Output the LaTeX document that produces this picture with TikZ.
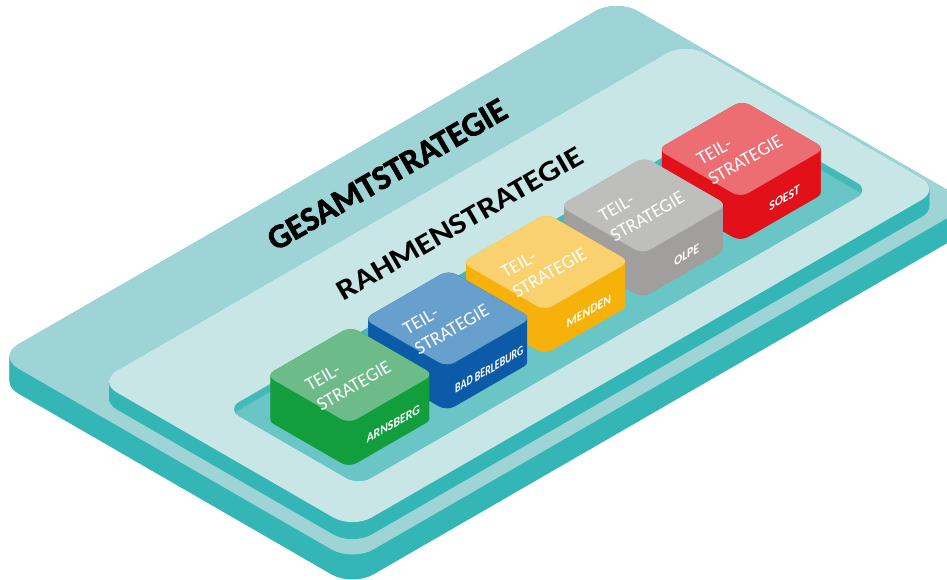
\documentclass[tikz,border=0pt]{standalone}
\usepackage{fontspec}
\setmainfont{Carlito}
\newfontfamily\heavyfont{Carlito}[BoldFeatures={FakeBold=2}]
\definecolor{outerTop}{HTML}{9ED4D5}
\definecolor{plateSide}{HTML}{34B5B6}
\definecolor{rahmenTop}{HTML}{C8E6E6}
\definecolor{trayFloor}{HTML}{6AC5C7}
\definecolor{trayWall}{HTML}{45B9BA}
\definecolor{greenTop}{HTML}{6DBB88}
\definecolor{greenSide}{HTML}{129E3C}
\definecolor{blueTop}{HTML}{679FCD}
\definecolor{blueSide}{HTML}{0B5BA8}
\definecolor{yellowTop}{HTML}{FAD16F}
\definecolor{yellowSide}{HTML}{F6B10A}
\definecolor{grayTop}{HTML}{BEBEBC}
\definecolor{graySide}{HTML}{A09F9E}
\definecolor{redTop}{HTML}{EC6E72}
\definecolor{redSide}{HTML}{E21119}
\tikzset{
  hplane/.style={x={(1pt,0pt)},y={(0pt,1pt)},
    transform canvas={cm={0.866,0.5,0.866,-0.5,(0pt,{(#1)*1pt})}}},
  toptext/.style={text=white,font=\fontsize{19}{23}\selectfont,align=left,
    rotate=30,inner sep=0pt},
  citytext/.style={text=white,font=\bfseries\fontsize{13.5}{14}\selectfont,
    cm={0.866,0.5,0,1,(0,0)},inner sep=0pt},
  bigtext/.style={text=black,rotate=30,inner sep=0pt}
}
% a1 b1 a2 b2 hbottom htop radius sidecolor topcolor
\newcommand{\slab}[9]{%
  \foreach \hh in {#5,...,#6}{%
    \begin{scope}[hplane=\hh]
      \fill[#8,rounded corners=#7pt] (#1,#2) rectangle (#3,#4);
    \end{scope}}
  \begin{scope}[hplane=#6]
    \fill[#9,rounded corners=#7pt] (#1,#2) rectangle (#3,#4);
  \end{scope}}
\begin{document}
\begin{tikzpicture}[x={(0.866pt,0.5pt)},y={(0.866pt,-0.5pt)},z={(0pt,1pt)}]
\useasboundingbox (0pt,0pt) rectangle (947pt,-579pt);
\fill[white] (0pt,0pt) rectangle (947pt,-579pt);
% outer plate (Gesamtstrategie)
\slab{-358}{355}{357}{765}{-25}{0}{24}{plateSide}{outerTop}
% inner plate (Rahmenstrategie)
\slab{-342}{455}{337}{749}{0}{17}{22}{plateSide}{rahmenTop}
% recessed tray
\begin{scope}[hplane=17]
  \fill[trayWall,rounded corners=14pt] (-295,557) rectangle (295,709);
  \clip[rounded corners=14pt] (-295,557) rectangle (295,709);
  \fill[trayFloor,rounded corners=14pt] (-303,565) rectangle (287,717);
\end{scope}
% titles
\node[bigtext,font=\heavyfont\bfseries\fontsize{34}{34}\selectfont] (gesamt) at (49,398,0) {GESAMTSTRATEGIE};
\node[bigtext,font=\bfseries\fontsize{29}{29}\selectfont] (rahmen) at (25,506,17) {\scalebox{1.17}[1]{RAHMENSTRATEGIE}};
% cubes, back to front
\slab{177}{582}{275}{678}{9}{53}{9}{redSide}{redTop}
\node[toptext] (t5) at (224,630,53) {TEIL-\\STRATEGIE};
\node[citytext] (c5) at (228,678,27) {SOEST};
\slab{64}{582}{162}{678}{9}{53}{9}{graySide}{grayTop}
\node[toptext] (t4) at (111,630,53) {TEIL-\\STRATEGIE};
\node[citytext] (c4) at (115,678,27) {OLPE};
\slab{-49}{582}{49}{678}{9}{53}{9}{yellowSide}{yellowTop}
\node[toptext] (t3) at (-2,630,53) {TEIL-\\STRATEGIE};
\node[citytext] (c3) at (2,678,27) {MENDEN};
\slab{-162}{582}{-64}{678}{9}{53}{9}{blueSide}{blueTop}
\node[toptext] (t2) at (-115,630,53) {TEIL-\\STRATEGIE};
\node[citytext] (c2) at (-113,678,26) {\scalebox{0.84}[1]{BAD BERLEBURG}};
\slab{-275}{582}{-177}{678}{9}{53}{9}{greenSide}{greenTop}
\node[toptext] (t1) at (-228,630,53) {TEIL-\\STRATEGIE};
\node[citytext] (c1) at (-224,678,27) {ARNSBERG};
\end{tikzpicture}
\end{document}
